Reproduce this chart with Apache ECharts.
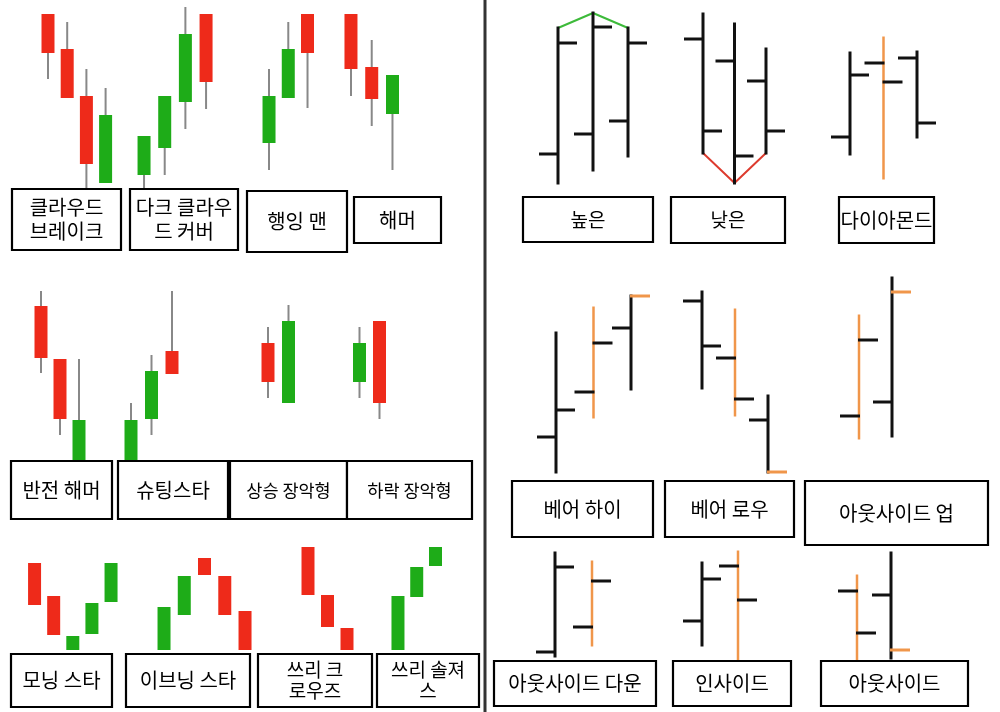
<!DOCTYPE html>
<html><head><meta charset="utf-8">
<script src="https://cdn.jsdelivr.net/npm/echarts@6/dist/echarts.min.js"></script>
<style>html,body{margin:0;padding:0;background:#fff}#c{width:1000px;height:712px}</style>
</head><body><div id="c"></div>
<script>
// ---------- Candlestick patterns: [open, close, low, high] ----------
const cloudBreak   = [[186,147,121,186],[151,102,102,178],[104,36,12,131],[17,85,17,112]];
const darkCloud    = [[25,64,11,64],[52,104,25,104],[98,166,71,193],[186,118,91,186]];
const hangingMan   = [[57,104,30,131],[102,151,102,178],[186,147,92,186]];
const hammer       = [[186,131,104,186],[133,101,74,160],[86,125,30,125]];
const revHammer    = [[164,112,97,179],[111,51,35,111],[10,50,10,111]];
const shootingStar = [[10,50,10,67],[51,99,35,115],[119,96,96,179]];
const bullEngulf   = [[127,88,72,143],[67,149,67,165]];
const bearEngulf   = [[88,127,72,143],[149,67,51,149]];
const morningStar  = [[97,55,55,97],[64,25,25,64],[10,24,10,24],[26,57,26,57],[58,97,58,97]];
const eveningStar  = [[10,53,10,53],[45,84,45,84],[102,85,85,102],[84,45,45,84],[49,10,10,49]];
const threeCrows   = [[113,65,65,113],[65,33,33,65],[32,10,10,32]];
const threeSoldiers= [[10,64,10,64],[63,93,63,93],[94,113,94,113]];

// ---------- OHLC bar patterns: [open, close, low, high] ----------
const higherHigh   = [[46,157,17,172],[66,173,30,187],[79,157,44,172]];
const lowerLow     = [[161,69,47,186],[139,44,17,176],[119,69,47,151]];
const diamond      = [[63,125,46,147],[137,118,22,162],[142,77,63,148]];
const bearHigh     = [[43,70,8,147],[88,137,63,172],[152,184,91,184]];
const bearLow      = [[179,134,92,188],[122,81,65,170],[60,8,8,84]];
const outsideUp    = [[64,140,42,164],[78,188,44,202]];
const outsideDown  = [[18,103,14,117],[43,89,25,108]];
const insideBar    = [[49,91,25,107],[104,70,10,118]];
const outsideBar   = [[79,37,10,94],[75,20,12,117]];

// highlighted bars (orange body) and highlighted closes (orange close tick), by bar index
const hlBody  = {diamond:[1], bearHigh:[1], bearLow:[1], outsideUp:[0], outsideDown:[1], insideBar:[1], outsideBar:[0]};
const hlClose = {bearHigh:[2], bearLow:[2], outsideUp:[1], outsideBar:[1]};

// ---------- Labels ----------
const labels = {
  cloudBreak:'클라우드\n브레이크', darkCloud:'다크 클라우\n드 커버', hangingMan:'행잉 맨', hammer:'해머',
  revHammer:'반전 해머', shootingStar:'슈팅스타', bullEngulf:'상승 장악형', bearEngulf:'하락 장악형',
  morningStar:'모닝 스타', eveningStar:'이브닝 스타', threeCrows:'쓰리 크\n로우즈', threeSoldiers:'쓰리 솔져\n스',
  higherHigh:'높은', lowerLow:'낮은', diamond:'다이아몬드',
  bearHigh:'베어 하이', bearLow:'베어 로우', outsideUp:'아웃사이드 업',
  outsideDown:'아웃사이드 다운', insideBar:'인사이드', outsideBar:'아웃사이드'
};

// ---------- Layout (pixels) ----------
const RED='#ee2a1a', GREEN='#1eac18', WICK='#888888', BLACK='#111111', ORANGE='#f0964a';
const FONT='Noto Sans CJK KR';
const rows = {L1:[0,200], L2:[280,470], L3:[540,660], R1:[0,200], R2:[270,480], R3:[540,670]};
const layout = [
  {key:'cloudBreak', data:cloudBreak, kind:'c', row:'L1', left:38.4, width:76.8, box:[12,189,109,61], fs:20, lh:24},
  {key:'darkCloud', data:darkCloud, kind:'c', row:'L1', left:133.7, width:82.7, box:[130,189,108,61], fs:20, lh:24},
  {key:'hangingMan', data:hangingMan, kind:'c', row:'L1', left:259.4, width:57.75, box:[247,191,100,61], fs:20},
  {key:'hammer', data:hammer, kind:'c', row:'L1', left:340.6, width:62.25, box:[354,197,87,46], fs:20},
  {key:'revHammer', data:revHammer, kind:'c', row:'L2', left:31.5, width:57, box:[11,461,101,58], fs:20},
  {key:'shootingStar', data:shootingStar, kind:'c', row:'L2', left:120.75, width:61.5, box:[118,461,110,58], fs:20},
  {key:'bullEngulf', data:bullEngulf, kind:'c', row:'L2', left:257.75, width:41, box:[230,461,117,58], fs:17.5},
  {key:'bearEngulf', data:bearEngulf, kind:'c', row:'L2', left:349.5, width:40, box:[347,461,125,58], fs:17.5},
  {key:'morningStar', data:morningStar, kind:'c', row:'L3', left:25, width:95.6, box:[11,654,101,53], fs:20},
  {key:'eveningStar', data:eveningStar, kind:'c', row:'L3', left:153.9, width:101.25, box:[126,654,124,53], fs:20},
  {key:'threeCrows', data:threeCrows, kind:'c', row:'L3', left:298.25, width:58.5, box:[258,654,114,53], fs:19, lh:21},
  {key:'threeSoldiers', data:threeSoldiers, kind:'c', row:'L3', left:388.6, width:56.25, box:[377,654,102,53], fs:19, lh:21},
  {key:'higherHigh', data:higherHigh, kind:'o', row:'R1', left:540.5, width:105, box:[523,197,130,45], fs:19, join:'high'},
  {key:'lowerLow', data:lowerLow, kind:'o', row:'R1', left:687.25, width:94.5, box:[671,197,114,46], fs:19, join:'low'},
  {key:'diamond', data:diamond, kind:'o', row:'R1', left:833.25, width:100.5, box:[839,197,95,46], fs:20},
  {key:'bearHigh', data:bearHigh, kind:'o', row:'R2', left:537.25, width:112.5, box:[512,481,141,56], fs:20},
  {key:'bearLow', data:bearLow, kind:'o', row:'R2', left:685.5, width:99, box:[665,481,129,56], fs:20},
  {key:'outsideUp', data:outsideUp, kind:'o', row:'R2', left:842.5, width:66, box:[805,481,183,64], fs:20},
  {key:'outsideDown', data:outsideDown, kind:'o', row:'R3', left:536.5, width:74, box:[494,661,162,45], fs:20},
  {key:'insideBar', data:insideBar, kind:'o', row:'R3', left:684, width:72, box:[673,661,118,45], fs:20},
  {key:'outsideBar', data:outsideBar, kind:'o', row:'R3', left:840, width:68, box:[821,661,147,45], fs:20}
];

function renderCandle(params, api){
  const i = api.value(0);
  const o = api.value(1), c = api.value(2), lo = api.value(3), hi = api.value(4);
  const pO = api.coord([i,o]), pC = api.coord([i,c]), pL = api.coord([i,lo]), pH = api.coord([i,hi]);
  const xc = pO[0];
  const w = 13;
  const color = c >= o ? GREEN : RED;
  return {type:'group', children:[
    {type:'line', shape:{x1:xc,y1:pH[1],x2:xc,y2:pL[1]}, style:{stroke:WICK,lineWidth:2}},
    {type:'rect', shape:{x:xc-w/2, y:Math.min(pO[1],pC[1]), width:w, height:Math.abs(pO[1]-pC[1])}, style:{fill:color}}
  ]};
}
function makeOhlcRenderer(key){
  const hb = hlBody[key] || [], hc = hlClose[key] || [];
  return function(params, api){
    const i = api.value(0);
    const pO = api.coord([i,api.value(1)]), pC = api.coord([i,api.value(2)]);
    const pL = api.coord([i,api.value(3)]), pH = api.coord([i,api.value(4)]);
    const xc = pO[0], t = 19;
    const bodyCol = hb.indexOf(params.dataIndex) >= 0 ? ORANGE : BLACK;
    const closeCol = hc.indexOf(params.dataIndex) >= 0 ? ORANGE : BLACK;
    const lw = bodyCol === ORANGE ? 2.5 : 3;
    return {type:'group', children:[
      {type:'line', shape:{x1:xc,y1:pH[1]-1.5,x2:xc,y2:pL[1]+1.5}, style:{stroke:bodyCol,lineWidth:lw}},
      {type:'line', shape:{x1:xc-t,y1:pO[1],x2:xc+1,y2:pO[1]}, style:{stroke:BLACK,lineWidth:3}},
      {type:'line', shape:{x1:xc-1,y1:pC[1],x2:xc+t,y2:pC[1]}, style:{stroke:closeCol,lineWidth:3}}
    ]};
  };
}

const grids=[], xAxes=[], yAxes=[], series=[], graphics=[];
layout.forEach(function(p, gi){
  const r = rows[p.row];
  grids.push({left:p.left, top:r[0], width:p.width, height:r[1]-r[0], containLabel:false});
  xAxes.push({type:'category', gridIndex:gi, data:p.data.map(function(_,k){return String(k);}), show:false, boundaryGap:true});
  yAxes.push({type:'value', gridIndex:gi, min:0, max:r[1]-r[0], show:false});
  const d = p.data.map(function(v,k){return [k, v[0], v[1], v[2], v[3]];});
  series.push({type:'custom', xAxisIndex:gi, yAxisIndex:gi, data:d, clip:false, silent:true,
    encode:{x:0, y:[1,2,3,4]},
    renderItem: p.kind === 'c' ? renderCandle : makeOhlcRenderer(p.key)});
  if (p.join){
    const col = p.join === 'high' ? '#3dba3a' : '#dd3b2e';
    const vals = p.data.map(function(v){ return p.join === 'high' ? v[3] : v[2]; });
    series.push({type:'line', xAxisIndex:gi, yAxisIndex:gi, data:vals, symbol:'none', silent:true, z:1,
      lineStyle:{color:col, width:2}});
  }
  const b = p.box;
  graphics.push({type:'rect', shape:{x:b[0],y:b[1],width:b[2],height:b[3]}, style:{fill:'#fff', stroke:'#000', lineWidth:2.2}, z:10});
  graphics.push({type:'text', x:b[0]+b[2]/2, y:b[1]+b[3]/2, z:11,
    style:{text:labels[p.key], fill:'#000', fontSize:p.fs, fontFamily:FONT, align:'center', verticalAlign:'middle', lineHeight:p.lh || Math.round(p.fs*1.2)}});
});
graphics.push({type:'line', shape:{x1:485,y1:0,x2:485,y2:712}, style:{stroke:'#333',lineWidth:3}, z:12});

const chart = echarts.init(document.getElementById('c'), null, {renderer:'canvas'});
chart.setOption({animation:false, backgroundColor:'#fff', grid:grids, xAxis:xAxes, yAxis:yAxes, series:series, graphic:graphics});
</script>
</body></html>
